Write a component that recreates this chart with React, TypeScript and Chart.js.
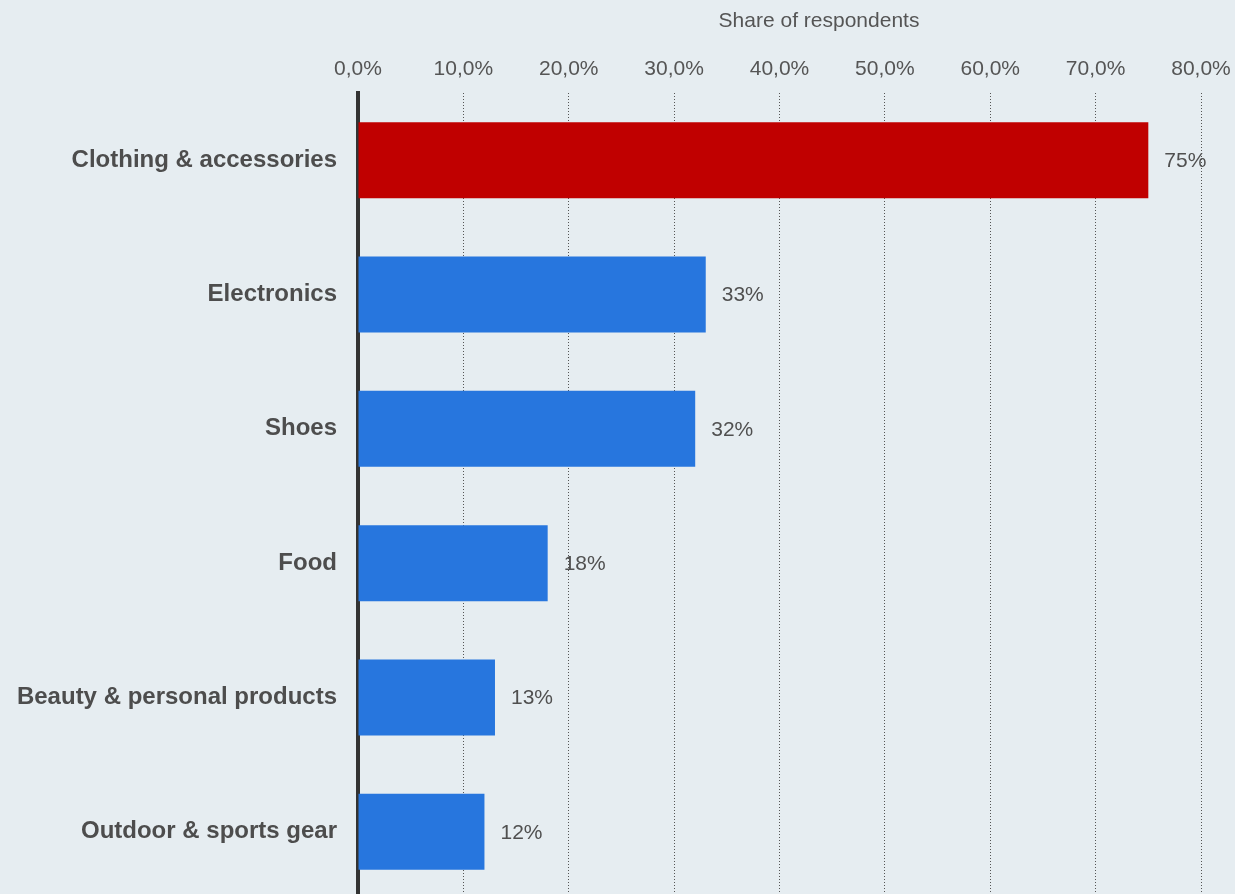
import React, { useEffect, useRef } from 'react';
import { Chart, registerables } from 'chart.js';

Chart.register(...registerables);

const categories = [
  'Clothing & accessories',
  'Electronics',
  'Shoes',
  'Food',
  'Beauty & personal products',
  'Outdoor & sports gear',
];
const shares = [75, 33, 32, 18, 13, 12];
const barColors = ['#c00000', '#2776de', '#2776de', '#2776de', '#2776de', '#2776de'];
const xMin = 0;
const xMax = 80;
const xStep = 10;
const axisTitle = 'Share of respondents';

const FONT = '"Liberation Sans", Arial, Helvetica, sans-serif';
const BG = '#e6edf1';

export default function App() {
  const ref = useRef<HTMLCanvasElement | null>(null);

  useEffect(() => {
    const canvas = ref.current;
    if (!canvas) return;

    const labelPlugin = {
      id: 'valueLabels',
      afterDatasetsDraw(chart: any) {
        const ctx = chart.ctx;
        const meta = chart.getDatasetMeta(0);
        ctx.save();
        ctx.font = `21px ${FONT}`;
        ctx.fillStyle = '#505050';
        ctx.textAlign = 'left';
        ctx.textBaseline = 'middle';
        meta.data.forEach((bar: any, i: number) => {
          ctx.fillText(`${shares[i]}%`, bar.x + 16, bar.y + 1);
        });
        ctx.restore();
      },
    };

    const titlePlugin = {
      id: 'axisTitleText',
      afterDraw(chart: any) {
        const ctx = chart.ctx;
        ctx.save();
        ctx.font = `21px ${FONT}`;
        ctx.fillStyle = '#555555';
        ctx.textAlign = 'center';
        ctx.textBaseline = 'middle';
        ctx.fillText(axisTitle, 819, 21);
        ctx.restore();
      },
    };

    const chart = new Chart(canvas, {
      type: 'bar',
      data: {
        labels: categories,
        datasets: [
          {
            data: shares,
            backgroundColor: barColors,
            borderWidth: 0,
            categoryPercentage: 1,
            barPercentage: 0.566,
          },
        ],
      },
      options: {
        indexAxis: 'y',
        responsive: false,
        maintainAspectRatio: false,
        animation: false,
        events: [],
        layout: { padding: { left: 0, right: 34, top: 0, bottom: 0 } },
        plugins: {
          legend: { display: false },
          tooltip: { enabled: false },
          title: { display: false },
        },
        scales: {
          x: {
            type: 'linear',
            position: 'top',
            min: xMin,
            max: xMax,
            afterFit: (s: any) => {
              s.height = 93;
              s.paddingLeft = 0;
              s.paddingRight = 0;
            },
            ticks: {
              stepSize: xStep,
              padding: 11,
              color: '#555555',
              font: { family: FONT, size: 21 },
              callback: (v: any) => `${Number(v).toFixed(1).replace('.', ',')}%`,
            },
            grid: {
              display: true,
              drawTicks: false,
              color: '#555555',
              lineWidth: 1,
            },
            border: { display: false, dash: [1, 2] },
          },
          y: {
            type: 'category',
            afterFit: (s: any) => {
              s.width = 358;
              s.paddingTop = 0;
              s.paddingBottom = 0;
            },
            ticks: {
              padding: 21,
              color: '#4d4d4d',
              font: { family: FONT, size: 24, weight: 'bold' },
            },
            grid: { display: false, drawTicks: false },
            border: { display: true, color: '#333333', width: 4 },
          },
        },
      },
      plugins: [labelPlugin, titlePlugin],
    } as any);

    return () => chart.destroy();
  }, []);

  return (
    <div
      style={{
        position: 'fixed',
        left: 0,
        top: 0,
        width: 1235,
        height: 894,
        overflow: 'hidden',
        background: BG,
      }}
    >
      <canvas ref={ref} width={1235} height={899} style={{ display: 'block' }} />
    </div>
  );
}
